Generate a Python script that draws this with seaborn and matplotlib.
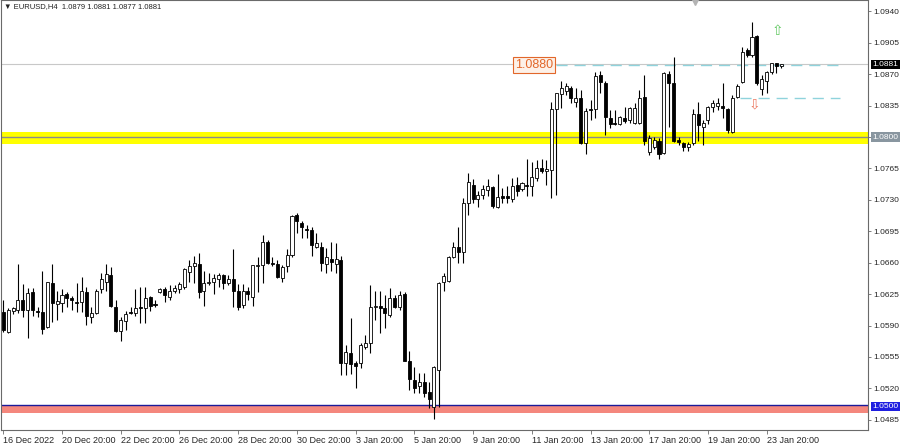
import matplotlib
matplotlib.use("Agg")
import matplotlib.pyplot as plt
import matplotlib.transforms as mtransforms
import numpy as np
import seaborn as sns

# EURUSD H4 candles, 16 Dec 2022 20:00 .. 24 Jan 2023
symbol = "EURUSD,H4"
last_ohlc = [1.0879, 1.0881, 1.0877, 1.0881]

opens = [
    1.0605, 1.0583, 1.0606, 1.0607, 1.0618, 1.0607, 1.0627, 1.0606, 1.0605, 1.0588,
    1.0637, 1.0614, 1.0615, 1.0625, 1.0621, 1.0616, 1.0616, 1.0627, 1.0600, 1.0604,
    1.0631, 1.0639, 1.0646, 1.0611, 1.0584, 1.0595, 1.0605, 1.0604, 1.0611, 1.0610,
    1.0622, 1.0614, 1.0627, 1.0631, 1.0622, 1.0629, 1.0631, 1.0633, 1.0650, 1.0656,
    1.0659, 1.0628, 1.0637, 1.0639, 1.0642, 1.0646, 1.0637, 1.0642, 1.0629, 1.0613,
    1.0629, 1.0622, 1.0656, 1.0657, 1.0683, 1.0660, 1.0659, 1.0643, 1.0656, 1.0669,
    1.0713, 1.0704, 1.0698, 1.0697, 1.0678, 1.0678, 1.0659, 1.0664, 1.0659, 1.0663,
    1.0548, 1.0559, 1.0548, 1.0548, 1.0566, 1.0570, 1.0611, 1.0612, 1.0609, 1.0602,
    1.0621, 1.0611, 1.0625, 1.0551, 1.0529, 1.0523, 1.0527, 1.0516, 1.0499, 1.0541,
    1.0638, 1.0640, 1.0666, 1.0678, 1.0672, 1.0726, 1.0747, 1.0731, 1.0735, 1.0741,
    1.0744, 1.0722, 1.0734, 1.0734, 1.0731, 1.0747, 1.0742, 1.0747, 1.0745, 1.0754,
    1.0765, 1.0762, 1.0763, 1.0831, 1.0848, 1.0851, 1.0855, 1.0839, 1.0843, 1.0793,
    1.0831, 1.0831, 1.0869, 1.0860, 1.0821, 1.0816, 1.0815, 1.0821, 1.0819, 1.0816,
    1.0816, 1.0845, 1.0783, 1.0789, 1.0796, 1.0782, 1.0870, 1.0860, 1.0797, 1.0793,
    1.0789, 1.0793, 1.0826, 1.0811, 1.0819, 1.0833, 1.0835, 1.0835, 1.0831, 1.0806,
    1.0845, 1.0861, 1.0897, 1.0892, 1.0913, 1.0854, 1.0863, 1.0872, 1.0883, 1.0879,
]
highs = [
    1.0618, 1.0609, 1.0611, 1.0659, 1.0636, 1.0632, 1.0632, 1.0611, 1.0651, 1.0639,
    1.0659, 1.0629, 1.0631, 1.0627, 1.0623, 1.0637, 1.0644, 1.0633, 1.0611, 1.0631,
    1.0648, 1.0659, 1.0655, 1.0618, 1.0599, 1.0606, 1.0611, 1.0631, 1.0633, 1.0633,
    1.0623, 1.0618, 1.0632, 1.0633, 1.0635, 1.0635, 1.0638, 1.0654, 1.0663, 1.0668,
    1.0671, 1.0651, 1.0649, 1.0647, 1.0648, 1.0647, 1.0646, 1.0675, 1.0636, 1.0636,
    1.0633, 1.0658, 1.0666, 1.0691, 1.0685, 1.0666, 1.0663, 1.0657, 1.0675, 1.0713,
    1.0715, 1.0706, 1.0702, 1.0700, 1.0693, 1.0683, 1.0676, 1.0683, 1.0682, 1.0668,
    1.0568, 1.0598, 1.0551, 1.0570, 1.0579, 1.0635, 1.0629, 1.0628, 1.0624, 1.0632,
    1.0624, 1.0629, 1.0627, 1.0562, 1.0544, 1.0537, 1.0537, 1.0527, 1.0545, 1.0638,
    1.0649, 1.0668, 1.0683, 1.0700, 1.0732, 1.0760, 1.0753, 1.0740, 1.0747, 1.0753,
    1.0745, 1.0759, 1.0743, 1.0745, 1.0754, 1.0756, 1.0750, 1.0776, 1.0772, 1.0774,
    1.0776, 1.0774, 1.0839, 1.0849, 1.0863, 1.0860, 1.0857, 1.0855, 1.0852, 1.0832,
    1.0841, 1.0872, 1.0874, 1.0863, 1.0830, 1.0830, 1.0824, 1.0833, 1.0833, 1.0838,
    1.0852, 1.0869, 1.0802, 1.0800, 1.0799, 1.0873, 1.0874, 1.0889, 1.0800, 1.0794,
    1.0794, 1.0831, 1.0839, 1.0819, 1.0835, 1.0841, 1.0844, 1.0860, 1.0832, 1.0847,
    1.0859, 1.0900, 1.0899, 1.0928, 1.0914, 1.0869, 1.0874, 1.0883, 1.0883, 1.0881,
]
lows = [
    1.0583, 1.0582, 1.0603, 1.0604, 1.0599, 1.0576, 1.0601, 1.0600, 1.0581, 1.0587,
    1.0594, 1.0596, 1.0605, 1.0611, 1.0607, 1.0605, 1.0605, 1.0591, 1.0593, 1.0603,
    1.0626, 1.0629, 1.0611, 1.0583, 1.0573, 1.0585, 1.0603, 1.0601, 1.0593, 1.0593,
    1.0606, 1.0611, 1.0626, 1.0616, 1.0618, 1.0626, 1.0626, 1.0631, 1.0638, 1.0637,
    1.0621, 1.0612, 1.0635, 1.0625, 1.0633, 1.0631, 1.0635, 1.0611, 1.0607, 1.0610,
    1.0618, 1.0612, 1.0627, 1.0637, 1.0659, 1.0656, 1.0643, 1.0638, 1.0650, 1.0666,
    1.0693, 1.0688, 1.0688, 1.0668, 1.0676, 1.0651, 1.0649, 1.0651, 1.0649, 1.0535,
    1.0535, 1.0536, 1.0520, 1.0543, 1.0564, 1.0559, 1.0596, 1.0582, 1.0587, 1.0600,
    1.0609, 1.0607, 1.0550, 1.0518, 1.0515, 1.0515, 1.0510, 1.0498, 1.0486, 1.0499,
    1.0629, 1.0638, 1.0665, 1.0660, 1.0660, 1.0713, 1.0727, 1.0722, 1.0731, 1.0734,
    1.0721, 1.0721, 1.0726, 1.0727, 1.0728, 1.0734, 1.0740, 1.0734, 1.0734, 1.0751,
    1.0760, 1.0747, 1.0732, 1.0736, 1.0832, 1.0847, 1.0838, 1.0833, 1.0792, 1.0781,
    1.0819, 1.0821, 1.0849, 1.0802, 1.0810, 1.0813, 1.0813, 1.0816, 1.0816, 1.0815,
    1.0815, 1.0791, 1.0780, 1.0787, 1.0776, 1.0781, 1.0811, 1.0794, 1.0791, 1.0785,
    1.0785, 1.0791, 1.0796, 1.0791, 1.0815, 1.0828, 1.0830, 1.0821, 1.0804, 1.0804,
    1.0843, 1.0860, 1.0889, 1.0889, 1.0858, 1.0847, 1.0849, 1.0870, 1.0871, 1.0877,
]
closes = [
    1.0585, 1.0607, 1.0609, 1.0618, 1.0607, 1.0626, 1.0607, 1.0605, 1.0586, 1.0638,
    1.0615, 1.0617, 1.0624, 1.0621, 1.0618, 1.0615, 1.0628, 1.0601, 1.0604, 1.0629,
    1.0642, 1.0647, 1.0612, 1.0584, 1.0596, 1.0603, 1.0604, 1.0610, 1.0609, 1.0621,
    1.0612, 1.0613, 1.0631, 1.0624, 1.0628, 1.0632, 1.0636, 1.0653, 1.0656, 1.0660,
    1.0627, 1.0637, 1.0639, 1.0643, 1.0646, 1.0637, 1.0642, 1.0629, 1.0611, 1.0629,
    1.0625, 1.0657, 1.0657, 1.0683, 1.0660, 1.0659, 1.0644, 1.0655, 1.0669, 1.0712,
    1.0706, 1.0700, 1.0697, 1.0680, 1.0682, 1.0660, 1.0666, 1.0661, 1.0664, 1.0548,
    1.0560, 1.0547, 1.0545, 1.0568, 1.0570, 1.0611, 1.0612, 1.0609, 1.0604, 1.0621,
    1.0611, 1.0624, 1.0551, 1.0530, 1.0520, 1.0527, 1.0515, 1.0508, 1.0544, 1.0637,
    1.0645, 1.0666, 1.0677, 1.0672, 1.0726, 1.0750, 1.0731, 1.0736, 1.0742, 1.0746,
    1.0723, 1.0733, 1.0732, 1.0732, 1.0746, 1.0740, 1.0749, 1.0746, 1.0756, 1.0765,
    1.0762, 1.0764, 1.0831, 1.0849, 1.0855, 1.0857, 1.0844, 1.0843, 1.0793, 1.0829,
    1.0830, 1.0868, 1.0861, 1.0822, 1.0815, 1.0815, 1.0822, 1.0818, 1.0832, 1.0832,
    1.0843, 1.0796, 1.0799, 1.0797, 1.0781, 1.0871, 1.0860, 1.0796, 1.0794, 1.0789,
    1.0792, 1.0826, 1.0813, 1.0816, 1.0834, 1.0838, 1.0838, 1.0832, 1.0808, 1.0843,
    1.0857, 1.0895, 1.0892, 1.0912, 1.0860, 1.0865, 1.0872, 1.0882, 1.0879, 1.0881,
]

date_labels = ["16 Dec 2022", "20 Dec 20:00", "22 Dec 20:00", "26 Dec 20:00",
               "28 Dec 20:00", "30 Dec 20:00", "3 Jan 20:00", "5 Jan 20:00",
               "9 Jan 20:00", "11 Jan 20:00", "13 Jan 20:00", "17 Jan 20:00",
               "19 Jan 20:00", "23 Jan 20:00"]
date_label_bars = [0, 12, 24, 36, 48, 60, 72, 84, 96, 108, 120, 132, 144, 156]
price_ticks = [1.0485, 1.0520, 1.0555, 1.0590, 1.0625, 1.0660, 1.0695,
               1.0730, 1.0765, 1.0800, 1.0835, 1.0870, 1.0905, 1.0940]

# drawn levels
zone_1080 = (1.0792, 1.0806)
level_1080 = 1.0800
zone_1050 = (1.0493, 1.0500)
level_1050 = 1.0501
target_up = 1.0880
target_down = 1.0843

sns.set_style("white")
plt.rcParams["font.family"] = ["Liberation Sans", "DejaVu Sans"]

o = np.array(opens)
h = np.array(highs)
l = np.array(lows)
c = np.array(closes)
x = np.arange(len(o))
up = c >= o

fig = plt.figure(figsize=(9.0, 4.46), dpi=100)
ax = fig.add_axes([0.0011, 0.0359, 0.9633, 0.963])
ax.set_facecolor("white")

# zones and levels
ax.axhspan(zone_1080[0], zone_1080[1], color="#ffff00", lw=0, zorder=0)
ax.axhline(level_1080, color="#8c8c8c", lw=1.0, zorder=1)
ax.axhspan(zone_1050[0], zone_1050[1], color="#f4877d", lw=0, zorder=0)
ax.axhline(level_1050, color="#1a1a9a", lw=1.0, zorder=1)
ax.axhline(last_ohlc[3], color="#c8c8c8", lw=0.8, zorder=1)

ax.plot([113, 171], [target_up, target_up], color="#8fd3dc", lw=1.0,
        dashes=(8, 5), zorder=1)
ax.plot([150.5, 171], [target_down, target_down], color="#8fd3dc", lw=1.0,
        dashes=(8, 5), zorder=1)

# candles
ax.vlines(x, l, h, color="black", lw=0.8, zorder=2)
body_lo = np.minimum(o, c)
body_h = np.maximum(np.abs(c - o), 0.00003)
ax.bar(x[up], body_h[up], bottom=body_lo[up], width=0.62,
       color="white", edgecolor="black", linewidth=0.6, zorder=3)
ax.bar(x[~up], body_h[~up], bottom=body_lo[~up], width=0.62,
       color="black", edgecolor="black", linewidth=0.6, zorder=3)

ax.set_xlim(-0.47, 176.7)
ax.set_ylim(1.04736, 1.09522)

# axes styling
for side in ["left", "right", "top", "bottom"]:
    ax.spines[side].set_color("#6a6a6a")
    ax.spines[side].set_linewidth(0.8)
ax.yaxis.tick_right()
ax.set_yticks(price_ticks)
ax.set_yticklabels([f"{t:.4f}" if abs(t - level_1080) > 1e-6 else ""
                    for t in price_ticks])
ax.tick_params(axis="y", which="major", direction="out", length=2.5, width=0.6,
               color="#6a6a6a", labelsize=6.0, pad=1.5, right=True, left=False)
ax.set_xticks(date_label_bars)
ax.set_xticklabels(date_labels)
ax.tick_params(axis="x", direction="out", length=3, width=0.6, color="#6a6a6a",
               labelsize=6.5, pad=1.5, bottom=True)
for lab in ax.get_xticklabels():
    lab.set_horizontalalignment("left")

# right axis price boxes
trans = mtransforms.blended_transform_factory(ax.transAxes, ax.transData)
box_kw = dict(transform=trans, ha="left", va="center", fontsize=6.0,
              color="white", zorder=10, clip_on=False)
ax.text(1.0055, last_ohlc[3], f"{last_ohlc[3]:.4f}",
        bbox=dict(boxstyle="square,pad=0.15", fc="black", ec="none"), **box_kw)
ax.text(1.0055, level_1080, f"{level_1080:.4f}",
        bbox=dict(boxstyle="square,pad=0.15", fc="#8996a0", ec="none"), **box_kw)
ax.text(1.0055, 1.0500, "1.0500",
        bbox=dict(boxstyle="square,pad=0.15", fc="#1f1fe0", ec="none"), **box_kw)

# target label and arrows
ax.text(112.3, target_up, f"{target_up:.4f}", ha="right", va="center",
        fontsize=9, color="#e2672a", zorder=6,
        bbox=dict(boxstyle="square,pad=0.15", fc="#fdf1e8", ec="#e2672a", lw=0.8))
ax.text(158.3, 1.0918, "\u21e7", ha="center", va="center", fontsize=10,
        color="#63c963", family="DejaVu Sans", zorder=6)
ax.text(153.4, 1.0836, "\u21e9", ha="center", va="center", fontsize=10,
        color="#ec7a62", family="DejaVu Sans", zorder=6)

# chart shift marker
ax.plot([141.4], [1.0950], marker="v", ms=5, color="#b4b4b4", clip_on=False,
        zorder=6)

# header
ax.text(0.004, 0.985, "\u25bc " + symbol + "  " + " ".join(f"{v:.4f}" for v in last_ohlc),
        transform=ax.transAxes, ha="left", va="center", fontsize=5.5,
        color="#222222", zorder=10)

fig.savefig("out.png", dpi=100)
